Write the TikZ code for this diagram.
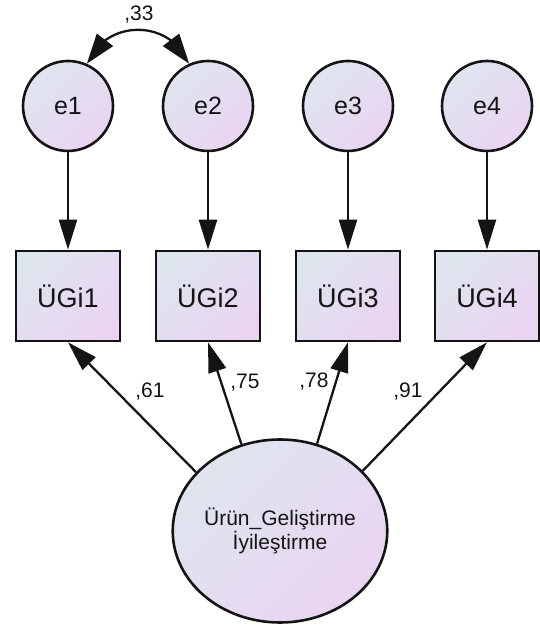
\documentclass[tikz,border=0pt]{standalone}
\usepackage{fontspec}
\setmainfont{Liberation Sans}
\usetikzlibrary{arrows.meta,bending,shapes.geometric}
\definecolor{cA}{RGB}{222,229,238}
\definecolor{cB}{RGB}{234,212,242}
\definecolor{inkc}{RGB}{20,20,20}
\begin{document}
\begin{tikzpicture}[x=1pt,y=1pt,
  shd/.style={top color=cA,bottom color=cB,shading angle=45},
  errc/.style={circle,draw=inkc,line width=2.6pt,shd,minimum size=90pt,inner sep=0pt,text=inkc,font=\fontsize{25}{30}\selectfont},
  obsbox/.style={rectangle,draw=inkc,line width=2.6pt,shd,minimum width=104pt,minimum height=90pt,inner sep=0pt,text=inkc,font=\fontsize{27}{32}\selectfont},
  latent/.style={ellipse,draw=inkc,line width=2.6pt,shd,minimum width=211pt,minimum height=183pt,inner sep=0pt,align=center,text=inkc,font=\fontsize{21}{24}\selectfont},
  tipk/.tip={Triangle[length=30pt,width=18pt]},
  tipc/.tip={Triangle[length=30pt,width=20pt,flex]},
  regarrow/.style={draw=inkc,line width=2.3pt,-tipk},
  covarrow/.style={draw=inkc,line width=2.3pt,tipc-tipc},
  lbl/.style={inner sep=0pt,text=inkc,font=\fontsize{21}{24}\selectfont}
]
\useasboundingbox (0,0) rectangle (539,628);
% error terms
\node[errc] (e1) at (68,522) {e1};
\node[errc] (e2) at (208,522) {e2};
\node[errc] (e3) at (348,522) {e3};
\node[errc] (e4) at (487,522) {e4};
% observed
\node[obsbox] (b1) at (68,332) {ÜGi1};
\node[obsbox] (b2) at (208,332) {ÜGi2};
\node[obsbox] (b3) at (348,332) {ÜGi3};
\node[obsbox] (b4) at (487,332) {ÜGi4};
% latent
\node[latent] (F) at (280,97) {Ürün\_Geliştirme\\İyileştirme};
% error arrows
\draw[regarrow] (e1) -- (b1);
\draw[regarrow] (e2) -- (b2);
\draw[regarrow] (e3) -- (b3);
\draw[regarrow] (e4) -- (b4);
% loadings
\draw[regarrow] (F.145) -- (b1.south);
\draw[regarrow] (F.114) -- (b2.south);
\draw[regarrow] (F.67) -- (b3.south);
\draw[regarrow] (F.36) -- (b4.south);
% covariance
\draw[covarrow] (e1.66) to[out=67,in=113,looseness=1.23] (e2.114);
% labels
\node[lbl] (l33) at (139,613) {,33};
\node[lbl] (l61) at (150,236) {,61};
\node[lbl] (l75) at (245,245) {,75};
\node[lbl] (l78) at (314,246) {,78};
\node[lbl] (l91) at (408,236) {,91};
\end{tikzpicture}
\end{document}
